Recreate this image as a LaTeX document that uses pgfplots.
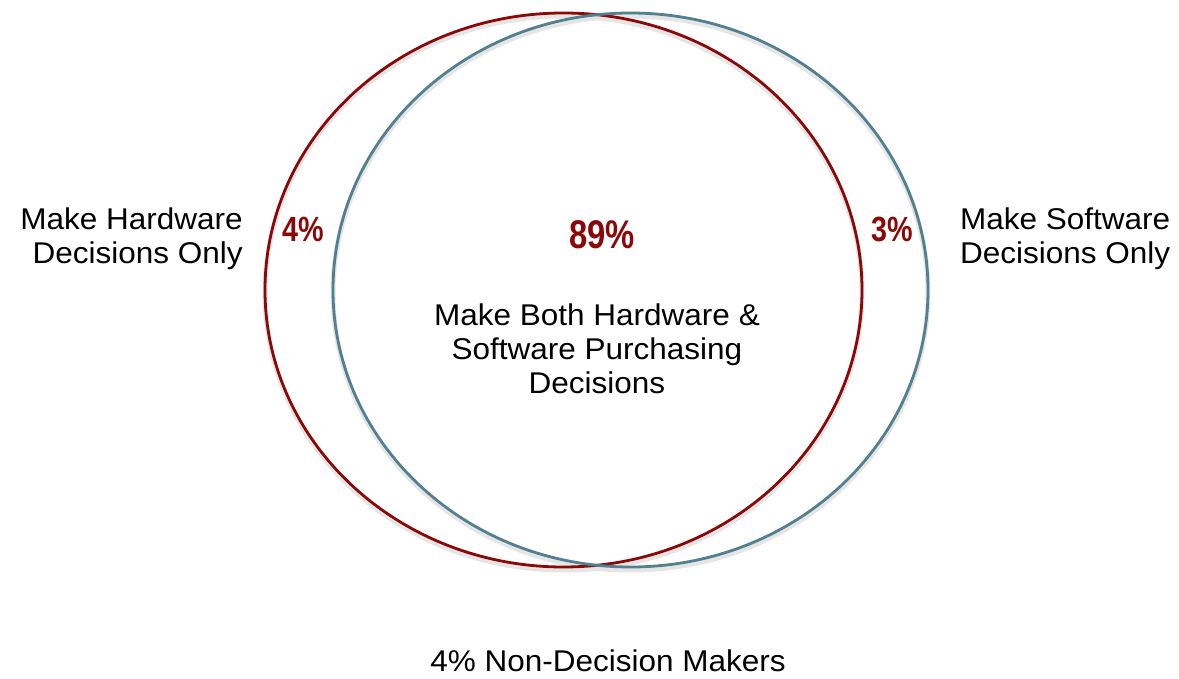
\documentclass[border=0pt]{standalone}
\usepackage{pgfplots}
\pgfplotsset{compat=1.18}
\usepackage{fontspec}
\setmainfont{Liberation Sans}
\newfontfamily\lab[FakeStretch=1.05]{Liberation Sans}
\newfontfamily\pct[FakeStretch=0.82]{Liberation Sans}
\definecolor{cred}{RGB}{140,8,8}
\definecolor{cblue}{RGB}{82,128,144}
\begin{document}
\begin{tikzpicture}
\begin{axis}[
  width=1179pt, height=678pt, scale only axis,
  xmin=0, xmax=1179, ymin=0, ymax=678,
  hide axis, clip=false,
]
% soft shadows
\draw[black!10, line width=5pt] (axis cs:563.5,385) ellipse [x radius=298.5, y radius=277];
\draw[black!10, line width=5pt] (axis cs:630.5,385) ellipse [x radius=297.5, y radius=277];
% circles
\draw[cred, line width=2.8pt] (axis cs:563.5,388) ellipse [x radius=298.5, y radius=277];
\draw[cblue, line width=2.8pt] (axis cs:630.5,388) ellipse [x radius=297.5, y radius=277];
% side labels
\node[anchor=base east, inner sep=0pt, font=\lab\fontsize{30}{34}\selectfont] at (axis cs:243,448) {Make Hardware};
\node[anchor=base east, inner sep=0pt, font=\lab\fontsize{30}{34}\selectfont] at (axis cs:243,414) {Decisions Only};
\node[anchor=base west, inner sep=0pt, font=\lab\fontsize{30}{34}\selectfont] at (axis cs:960,448) {Make Software};
\node[anchor=base west, inner sep=0pt, font=\lab\fontsize{30}{34}\selectfont] at (axis cs:960,414) {Decisions Only};
% percentages
\node[anchor=base, inner sep=0pt, text=cred, font=\pct\bfseries\fontsize{35}{40}\selectfont] at (axis cs:303,436) {4\%};
\node[anchor=base, inner sep=0pt, text=cred, font=\pct\bfseries\fontsize{35}{40}\selectfont] at (axis cs:892,436) {3\%};
\node[anchor=base, inner sep=0pt, text=cred, font=\pct\bfseries\fontsize{40}{46}\selectfont] at (axis cs:602,429) {89\%};
% center text
\node[anchor=base, inner sep=0pt, font=\lab\fontsize{30}{34}\selectfont] at (axis cs:597,352) {Make Both Hardware \&};
\node[anchor=base, inner sep=0pt, font=\lab\fontsize{30}{34}\selectfont] at (axis cs:597,318) {Software Purchasing};
\node[anchor=base, inner sep=0pt, font=\lab\fontsize{30}{34}\selectfont] at (axis cs:597,284) {Decisions};
% bottom
\node[anchor=base, inner sep=0pt, font=\lab\fontsize{30}{34}\selectfont] at (axis cs:608,6) {4\% Non-Decision Makers};
\end{axis}
\pgfresetboundingbox
\path (0,0) rectangle (1179pt,678pt);
\end{tikzpicture}
\end{document}
